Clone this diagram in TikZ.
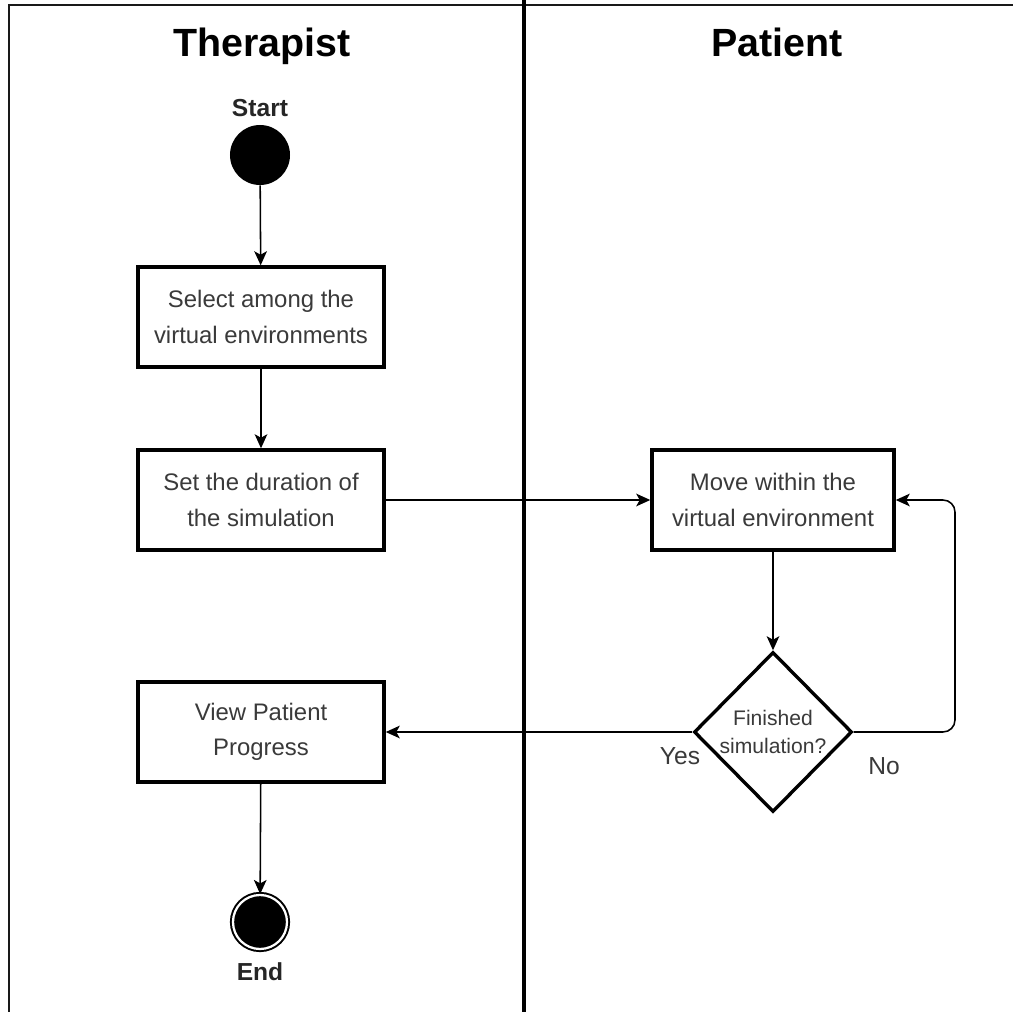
\documentclass[tikz,border=0pt]{standalone}
\usepackage{fontspec}
\setmainfont{Liberation Sans}
\usetikzlibrary{shapes.geometric,arrows.meta}
\definecolor{txtgray}{HTML}{3A3A3A}
\tikzset{
  lane/.style={draw=black!90, line width=2pt},
  divider/.style={draw=black, line width=3.5pt},
  lanetitle/.style={font=\fontsize{28}{32}\selectfont\bfseries, inner sep=0pt, anchor=base},
  smalllabel/.style={font=\fontsize{17.5}{20}\selectfont\bfseries, text=black!85, inner sep=0pt},
  actbox/.style={draw=black, line width=2.4pt, fill=white, minimum width=6.15cm, minimum height=2.5cm,
    align=center, text=txtgray, font=\fontsize{17}{25}\selectfont, inner sep=2pt},
  decision/.style={diamond, draw=black, line width=2.4pt, fill=white, minimum width=3.95cm, minimum height=4cm,
    inner sep=0pt, align=center, text=txtgray, font=\fontsize{15}{19.5}\selectfont},
  startdot/.style={circle, fill=black, minimum size=1.5cm, inner sep=0pt},
  enddot/.style={circle, fill=black, draw=black, line width=1.4pt, double=white, double distance=1.6pt,
    minimum size=1.35cm, inner sep=0pt},
  branchlabel/.style={font=\fontsize{17.5}{20}\selectfont, text=txtgray, inner sep=0pt},
  arr/.style={draw=black, line width=1.1pt, -{Stealth[length=10pt,width=9pt,inset=2.5pt]}},
}
\begin{document}
\begin{tikzpicture}[x=0.025cm, y=-0.025cm]
\useasboundingbox (0,0) rectangle (1013,1012);
% swimlanes
\draw[lane] (8,5) -- (1013,5);
\draw[lane] (9,5) -- (9,1012);
\draw[divider] (524,0) -- (524,1012);
\node[lanetitle] (tTher) at (262,57) {Therapist};
\node[lanetitle] (tPat) at (777,57) {Patient};
% nodes
\node[smalllabel] (lStart) at (260,108) {Start};
\node[startdot] (start) at (260,155) {};
\node[actbox] (select) at (261,317) {Select among the\\virtual environments};
\node[actbox] (duration) at (261,500) {Set the duration of\\the simulation};
\node[actbox, minimum width=6.05cm] (move) at (773,500) {Move within the\\virtual environment};
\node[decision] (finish) at (773,732) {Finished\\simulation?};
\node[actbox] (view) at (261,732) {View Patient\\Progress};
\node[enddot] (end) at (260,922) {};
\node[smalllabel] (lEnd) at (260,972) {End};
\node[branchlabel] (yes) at (680,756) {Yes};
\node[branchlabel] (no) at (884,766) {No};
\coordinate (loop) at (955,500);
% connectors
\draw[arr] (start) -- (select);
\draw[arr] (select) -- (duration);
\draw[arr] (duration) -- (move);
\draw[arr] (move) -- (finish);
\draw[arr] (finish.west) -- (view.east);
\draw[arr, rounded corners=0.3cm] (finish.east) -| (loop) -- (move.east);
\draw[arr] (view) -- (end);
\end{tikzpicture}
\end{document}
